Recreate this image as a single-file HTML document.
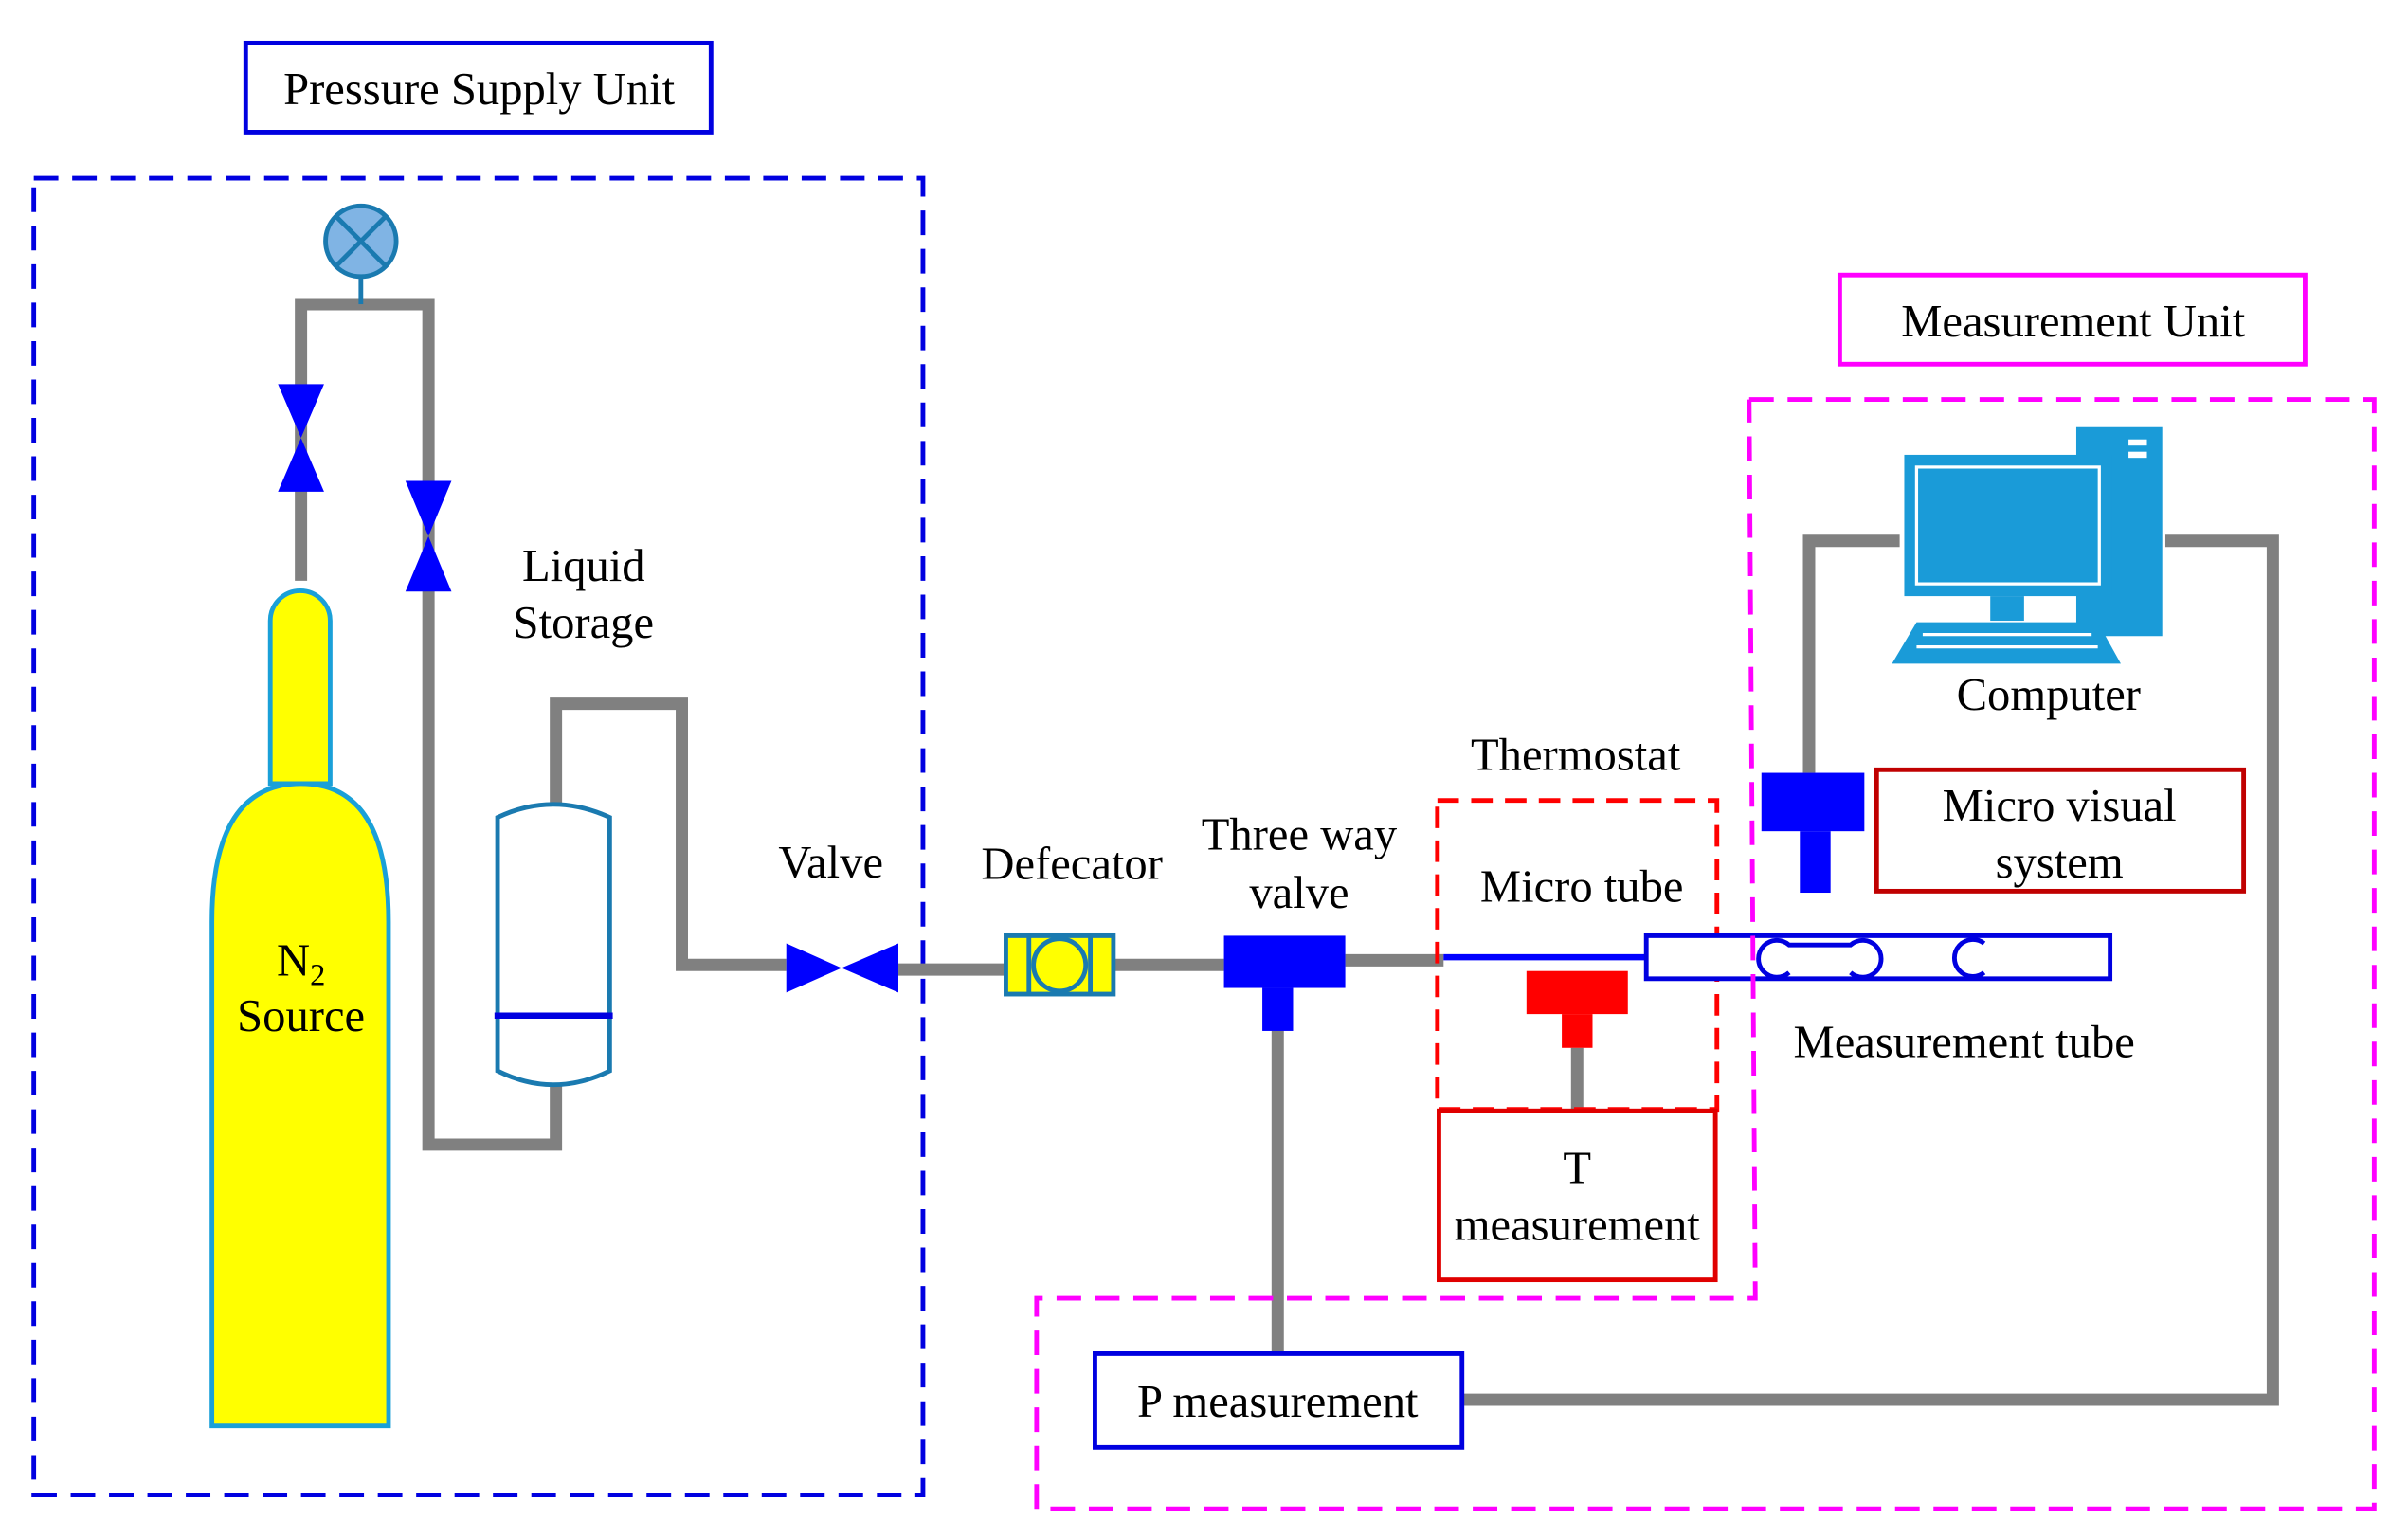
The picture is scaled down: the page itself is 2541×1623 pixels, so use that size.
<!DOCTYPE html>
<html><head><meta charset="utf-8"><style>
html,body{margin:0;padding:0;background:#fff;}
svg{display:block;}
text{font-family:"Liberation Serif",serif;font-size:30px;fill:#000;text-anchor:middle;}
</style></head><body>
<svg width="2541" height="1623" viewBox="0 0 1568 1001" preserveAspectRatio="none" xmlns="http://www.w3.org/2000/svg">
<rect width="1600" height="1010" fill="#fff"/>
<rect x="160" y="28" width="303" height="58" fill="none" stroke="#0000e0" stroke-width="3"/>
<text x="312" y="68">Pressure Supply Unit</text>
<rect x="22" y="116" width="579" height="857" fill="none" stroke="#0000e0" stroke-width="3" stroke-dasharray="16,9"/>
<g fill="none" stroke="#808080" stroke-width="8">
<path d="M196 378 V198 H279 V745 H362 V705"/>
<path d="M362 523 V458 H444 V628 H512"/>
<path d="M585 631 H655"/>
<path d="M725 628 H797"/>
<path d="M876 625 H940"/>
<path d="M832 670 V882"/>
<path d="M1237 352 H1178 V503"/>
<path d="M1410 352 H1480 V911 H953"/>
<path d="M1027 682 V722"/>
</g>
<line x1="235" y1="180" x2="235" y2="198" stroke="#1a7ab0" stroke-width="3"/>
<circle cx="235" cy="157" r="23" fill="#80b4e4" stroke="#1a7ab0" stroke-width="3"/>
<path d="M219 141 L251 173 M251 141 L219 173" stroke="#1a7ab0" stroke-width="3"/>
<g fill="#0000ff">
<polygon points="181,250 211,250 196,285"/><polygon points="181,320 211,320 196,285"/>
<polygon points="264,313 294,313 279,349"/><polygon points="264,385 294,385 279,349"/>
<polygon points="512,614 512,646 548,630"/><polygon points="585,614 585,646 548,630"/>
</g>
<path d="M176 510 V404 A19.5 19.5 0 0 1 215 404 V510 Z" fill="#ffff00" stroke="#1aa0d8" stroke-width="3"/>
<path d="M138 928 V600 Q138 510 196 510 Q253 510 253 600 V928 Z" fill="#ffff00" stroke="#1aa0d8" stroke-width="3"/>
<text x="196" y="635">N<tspan font-size="20" dy="6">2</tspan></text>
<text x="196" y="671">Source</text>
<path d="M324 532 Q360 515 397 532 V697 Q360 715 324 697 Z" fill="#fff" stroke="#1a7ab0" stroke-width="3"/>
<line x1="322" y1="661" x2="399" y2="661" stroke="#0000e0" stroke-width="4"/>
<text x="380" y="378">Liquid</text>
<text x="380" y="415">Storage</text>
<text x="541" y="571">Valve</text>
<rect x="655" y="609" width="70" height="38" fill="#ffff00" stroke="#1a7ab0" stroke-width="3"/>
<line x1="670" y1="609" x2="670" y2="647" stroke="#1a7ab0" stroke-width="3"/>
<line x1="710" y1="609" x2="710" y2="647" stroke="#1a7ab0" stroke-width="3"/>
<circle cx="690" cy="628" r="17" fill="#ffff00" stroke="#1a7ab0" stroke-width="3"/>
<text x="698" y="572">Defecator</text>
<rect x="797" y="609" width="79" height="34" fill="#0000ff"/>
<rect x="822" y="643" width="20" height="28" fill="#0000ff"/>
<text x="846" y="553">Three way</text>
<text x="846" y="591">valve</text>
<rect x="936" y="521" width="182" height="201" fill="none" stroke="#ff0000" stroke-width="3" stroke-dasharray="14,8"/>
<text x="1026" y="501">Thermostat</text>
<text x="1030" y="587">Micro tube</text>
<line x1="940" y1="623" x2="1072" y2="623" stroke="#0000ff" stroke-width="4"/>
<rect x="994" y="632" width="66" height="28" fill="#ff0000"/>
<rect x="1017" y="660" width="20" height="22" fill="#ff0000"/>
<rect x="937" y="723" width="180" height="110" fill="#fff" stroke="#e00000" stroke-width="3"/>
<text x="1027" y="770">T</text>
<text x="1027" y="807">measurement</text>
<rect x="1072" y="609" width="302" height="28" fill="#fff" stroke="#0000e0" stroke-width="3"/>
<path d="M1165 633 A12 12 0 1 1 1165 615 H1205 A12 12 0 1 1 1205 633" fill="none" stroke="#0000e0" stroke-width="3"/>
<path d="M1292 633 A12 12 0 1 1 1292 614" fill="none" stroke="#0000e0" stroke-width="3"/>
<text x="1279" y="688">Measurement tube</text>
<rect x="1198" y="179" width="303" height="58" fill="none" stroke="#ff00ff" stroke-width="3"/>
<text x="1350" y="219">Measurement Unit</text>
<path d="M1139 260 H1546 V982 H675 V845 H1143 L1139 260" fill="none" stroke="#ff00ff" stroke-width="3" stroke-dasharray="16,9"/>
<rect x="1352" y="278" width="56" height="136" fill="#1a9bd8"/>
<rect x="1386" y="286" width="12" height="4" fill="#fff"/><rect x="1386" y="294" width="12" height="4" fill="#fff"/>
<rect x="1240" y="296" width="135" height="92" fill="#1a9bd8"/>
<rect x="1248" y="304" width="119" height="76" fill="none" stroke="#fff" stroke-width="2"/>
<rect x="1296" y="388" width="22" height="16" fill="#1a9bd8"/>
<polygon points="1248,405 1366,405 1381,432 1232,432" fill="#1a9bd8"/>
<g stroke="#fff" stroke-width="2"><line x1="1252" y1="413" x2="1362" y2="413"/><line x1="1248" y1="421" x2="1366" y2="421"/></g>
<text x="1334" y="462">Computer</text>
<rect x="1147" y="503" width="67" height="38" fill="#0000ff"/>
<rect x="1172" y="541" width="20" height="40" fill="#0000ff"/>
<rect x="1222" y="501" width="239" height="79" fill="#fff" stroke="#c00000" stroke-width="3"/>
<text x="1341" y="534">Micro visual</text>
<text x="1341" y="571">system</text>
<rect x="713" y="881" width="239" height="61" fill="#fff" stroke="#0000e0" stroke-width="3"/>
<text x="832" y="922">P measurement</text>
</svg>
</body></html>
